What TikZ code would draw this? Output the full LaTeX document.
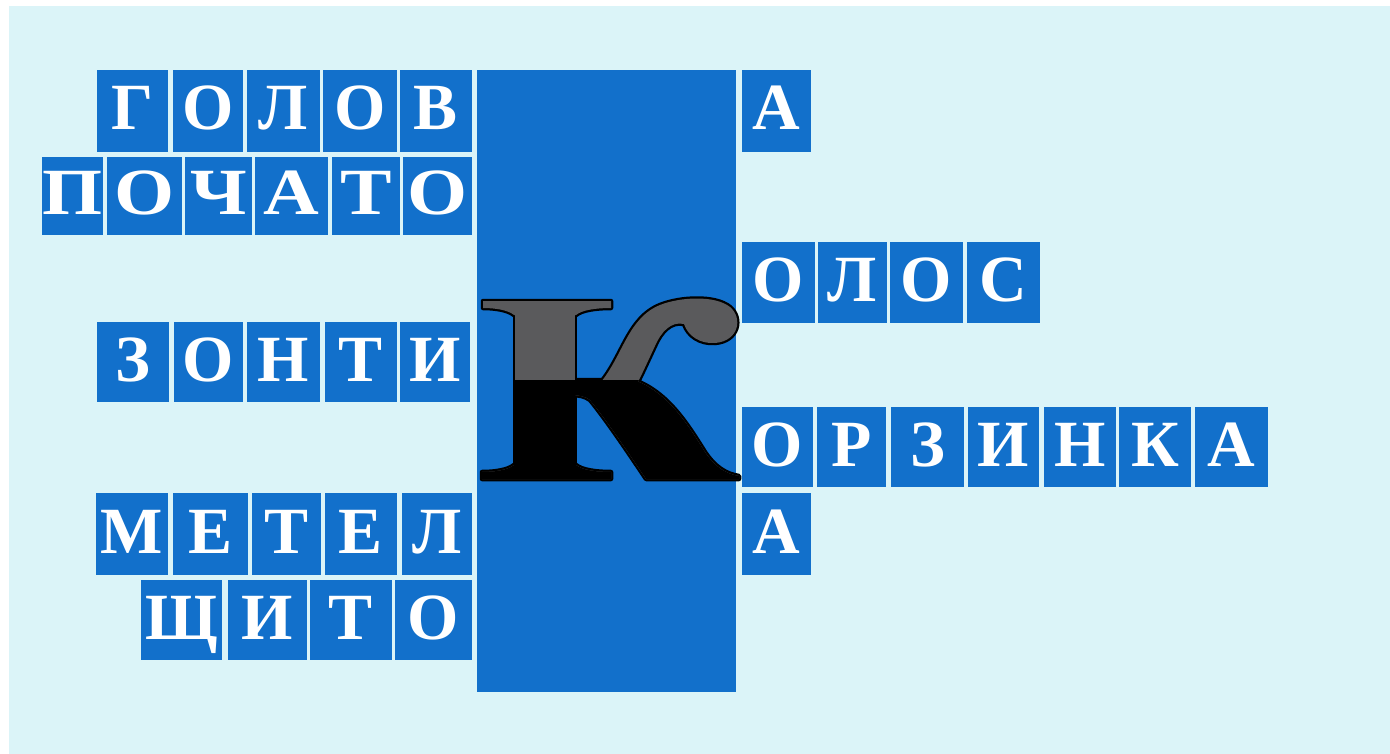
\documentclass[tikz,border=0pt]{standalone}
\usepackage{fontspec}
\setmainfont{Liberation Serif}
\definecolor{bgc}{RGB}{219,244,248}
\definecolor{cellblue}{RGB}{18,112,203}
\definecolor{kgray}{RGB}{90,90,92}
\tikzset{
  cell/.style={fill=cellblue, text=white, inner sep=0pt, text height=38pt, text depth=0pt,
    font=\bfseries\fontsize{66}{66}\selectfont, anchor=center},
  kout/.style={draw=black, line width=4.5pt, line join=round},
}
\newcommand\wordrow[4]{%
  \foreach \xa/\xb/\ch [count=\i] in {#4}
    \node[cell, minimum width={(\xb-\xa)*1pt}, minimum height={(#3-#2)*1pt}]
      (#1\i) at ({(\xa+\xb)/2},{(#2+#3)/2}) {\ch};
}
\newcommand\kserifA{(483,301) -- (611,301) -- (611,308) .. controls (596,308) and (582,310) .. (576,315)
    -- (514,315) .. controls (508,310) and (495,308) .. (483,308) -- cycle}
\newcommand\kstem{(515,306) rectangle (575,474)}
\newcommand\kserifB{(482,479) -- (611,479) -- (611,472) .. controls (596,472) and (582,470) .. (576,465)
    -- (514,465) .. controls (508,470) and (495,472) .. (482,472) -- cycle}
\newcommand\kleg{(570,380) -- (634,380) .. controls (668,392) and (688,425) .. (705,452)
    .. controls (715,467) and (726,474) .. (739,476) -- (739,479) -- (646,479)
    .. controls (630,455) and (605,418) .. (590,400)
    .. controls (585,396) and (578,395) .. (570,395) -- cycle}
\newcommand\karm{(601,382) .. controls (623,355) and (628,318) .. (660,305)
    .. controls (680,297) and (715,295) .. (730,307)
    .. controls (743,318) and (739,341) .. (715,343)
    .. controls (700,344) and (688,336) .. (684,324)
    .. controls (671,321) and (661,332) .. (655,346)
    .. controls (648,361) and (643,372) .. (638,382) -- cycle}
\begin{document}
\begin{tikzpicture}[x=1pt,y=-1pt]
\useasboundingbox (0,0) rectangle (1390,754);
\fill[white] (0,0) rectangle (1390,754);
\fill[bgc] (9,6) rectangle (1390,754);
% central bar
\node[fill=cellblue, inner sep=0pt, minimum width=259pt, minimum height=622pt] (kbar) at (606.5,381) {};
% left words
\wordrow{gol}{70}{152}{97/168/Г,173/243/О,247/320/Л,323/397/О,400/472/В}
\foreach \xa/\xb/\ch [count=\i] in {42/103/П,107/182/О,185/252/Ч,255/328/А,332/400/Т,403/472/О}
  \node[cell, minimum width={(\xb-\xa)*1pt}, minimum height=78pt]
    (poc\i) at ({(\xa+\xb)/2},196) {\scalebox{1.17}[1]{\ch}};
\wordrow{zon}{322}{402}{97/169/З,174/243/О,247/320/Н,325/397/Т,400/470/И}
\wordrow{met}{493}{575}{96/168/М,173/248/Е,252/321/Т,325/397/Е,402/472/Л}
\wordrow{shi}{580}{660}{141/222/Щ,228/307/И,310/392/Т,395/472/О}
% right words
\wordrow{ra}{70}{152}{742/811/А}
\wordrow{ol}{242}{323}{742/815/О,818/887/Л,890/963/О,967/1040/С}
\wordrow{orz}{407}{487}{742/813/О,817/886/Р,891/964/З,968/1039/И,1044/1116/Н,1119/1191/К,1195/1268/А}
\wordrow{rb}{493}{575}{742/811/А}
% big letter K: outline, gray fill, black lower half
\draw[kout] \kserifA; \draw[kout] \kstem; \draw[kout] \kserifB; \draw[kout] \kleg; \draw[kout] \karm;
\fill[kgray] \kserifA; \fill[kgray] \kstem; \fill[kgray] \kserifB; \fill[kgray] \kleg; \fill[kgray] \karm;
\begin{scope}
  \clip (470,380) rectangle (745,490);
  \fill[black] \kstem; \fill[black] \kserifB; \fill[black] \kleg; \fill[black] \karm;
\end{scope}
\end{tikzpicture}
\end{document}
